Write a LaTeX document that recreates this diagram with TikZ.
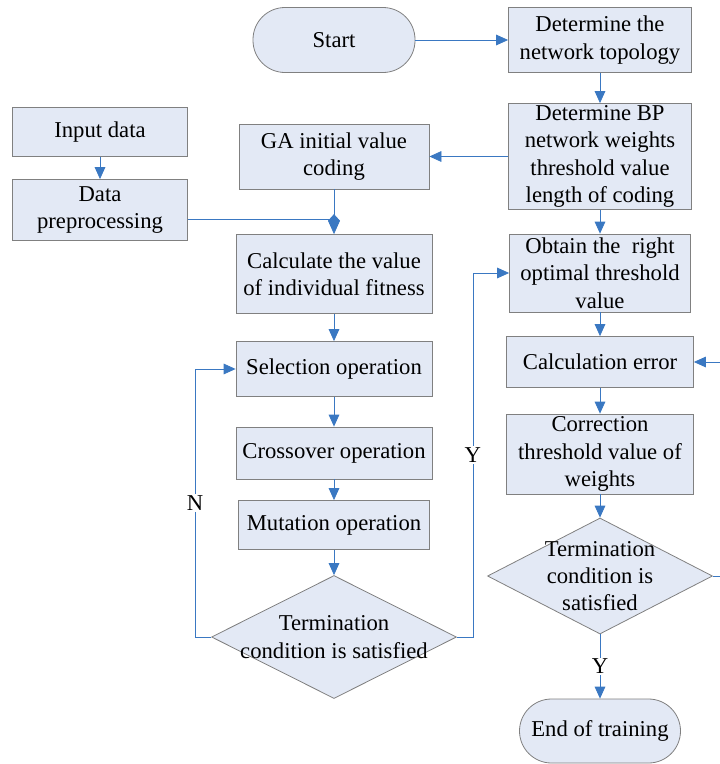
\documentclass[tikz,border=0pt]{standalone}
\usepackage{fontspec}
\setmainfont{Liberation Serif}
\usetikzlibrary{shapes.geometric,arrows.meta}
\definecolor{boxfill}{RGB}{227,233,245}
\definecolor{linkblue}{RGB}{58,120,194}
\begin{document}
\begin{tikzpicture}[x=0.75pt,y=-0.75pt,
    every node/.style={font=\fontsize{17}{20.5}\selectfont},
    box/.style={draw=gray,fill=boxfill,line width=0.6pt,align=center,inner sep=0pt},
    term/.style={box,rounded corners=24pt},
    cond/.style={box,shape=diamond},
    link/.style={draw=linkblue,line width=0.6pt,-{Triangle[length=9pt,width=8pt]}},
    yn/.style={fill=white,inner sep=1pt}]
    \useasboundingbox (0,0) rectangle (720,764);
    \node[term,minimum width=121.5pt,minimum height=48.75pt](start)at(334,40){Start};
    \node[box,minimum width=137.25pt,minimum height=48.75pt](topo)at(600,40){Determine the\\network topology};
    \node[box,minimum width=137.25pt,minimum height=79.5pt](bp)at(600,156.5){Determine BP\\network weights\\threshold value\\length of coding};
    \node[box,minimum width=142.5pt,minimum height=48.75pt](ga)at(334,156.5){GA initial value\\coding};
    \node[box,minimum width=131.25pt,minimum height=36.75pt](input)at(100,132){Input data};
    \node[box,minimum width=131.25pt,minimum height=45.75pt](pre)at(100,210){Data\\preprocessing};
    \node[box,minimum width=147pt,minimum height=59.25pt](fit)at(334,274){Calculate the value\\of individual fitness};
    \node[box,minimum width=147pt,minimum height=41.25pt](sel)at(334,369){Selection operation};
    \node[box,minimum width=147pt,minimum height=39pt](cross)at(334,453){Crossover operation};
    \node[box,minimum width=143.25pt,minimum height=36.75pt](mut)at(334,525){Mutation operation};
    \node[cond,minimum width=183.75pt,minimum height=92.25pt,
      label={[align=center]center:{Termination\\condition is satisfied}}](gastop)at(334,637){};
    \node[box,minimum width=135.75pt,minimum height=58.5pt](opt)at(600,273){Obtain the\ \ right\\optimal threshold\\value};
    \node[box,minimum width=140.25pt,minimum height=38.25pt](err)at(600,362){Calculation error};
    \node[box,minimum width=140.25pt,minimum height=60pt](corr)at(600,454){Correction\\threshold value of\\weights};
    \node[cond,minimum width=168.75pt,minimum height=87pt,
      label={[align=center]center:{Termination\\condition is\\satisfied}}](bpstop)at(600,576){};
    \node[term,minimum width=120.75pt,minimum height=48pt](end)at(600,731){End of training};
    \coordinate(merge)at(334,219);
    \draw[link](start)--(topo);
    \draw[link](topo)--(bp);
    \draw[link](bp)--(ga);
    \draw[link](input)--(pre);
    \draw[draw=linkblue,line width=0.6pt](pre.east|-merge)--(merge);
    \draw[link,-{Kite[length=15pt,width=9pt,inset=5pt]}](ga)--(fit);
    \draw[link](fit)--(sel);
    \draw[link](sel)--(cross);
    \draw[link](cross)--(mut);
    \draw[link](mut)--(gastop);
    \draw[link](gastop.west)--++(-16,0)|-node[pos=0.25,yn]{N}(sel.west);
    \draw[link](gastop.east)--++(16,0)|-node[pos=0.25,yn]{Y}(opt.west);
    \draw[link](bp)--(opt);
    \draw[link](opt)--(err);
    \draw[link](err)--(corr);
    \draw[link](corr)--(bpstop);
    \draw[link](bpstop)--node[yn]{Y}(end);
  \begin{scope}
    \clip(0,0)rectangle(720,764);
    \draw[link](bpstop.east)--++(30,0)|-(err.east);
  \end{scope}
\end{tikzpicture}
\end{document}
